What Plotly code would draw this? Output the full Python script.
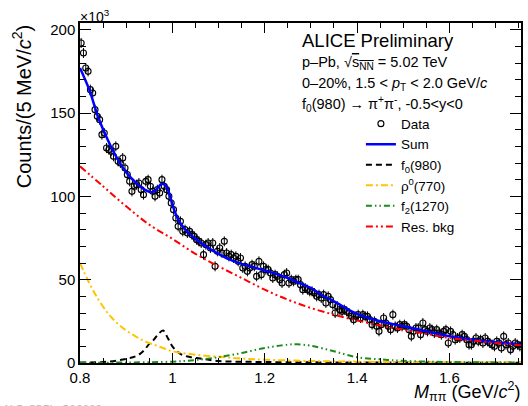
import numpy as np
import plotly.graph_objects as go

# ---------------- data (values in units of 10^3 counts) ----------------
bin_width = 0.005
x_start = 0.8
counts = [192, 186, 177, 175, 164, 162, 152, 148, 146, 137,
          138, 129, 128, 127, 124, 130, 121, 120, 123, 117,
          113, 109, 103, 106, 107, 108, 104, 101, 109, 110,
          106, 103, 100, 104, 102, 110, 106, 104, 100, 96,
          92, 87, 82, 85, 79, 80, 78, 79, 77, 76,
          74, 73, 72, 65, 71, 72, 69, 72, 58, 67,
          69, 66, 73, 66, 64, 65, 63, 64, 61, 63,
          57, 58, 55, 57, 59, 58, 52, 61, 53, 58,
          56, 56, 54, 51, 53, 52, 50, 48, 53, 54,
          48, 50, 49, 50, 50, 47, 44, 45, 44, 43,
          43, 42, 40, 41, 39, 41, 36, 40, 38, 35,
          30, 34, 32, 31, 32, 31, 30, 28, 26, 28,
          29, 27, 29, 28, 28, 26, 23, 25, 22, 19,
          23, 27, 24, 22, 20, 29, 22, 21, 23, 22,
          23, 22, 20, 16, 19, 21, 21, 17, 24, 20,
          19, 21, 20, 18, 20, 18, 17, 19, 20, 12,
          19, 17, 14, 15, 15, 17, 16, 14, 11, 11,
          13, 15, 13, 14, 12, 15, 13, 12, 11, 10,
          13, 12, 9, 16, 11, 12, 8, 10, 12, 11,
          10, 11]
count_err = 3.0
mass = x_start + bin_width * (np.arange(len(counts)) + 0.5)

# fit curves
sum_x = [0.80, 0.82, 0.84, 0.86, 0.88, 0.90, 0.92, 0.94, 0.955, 0.965, 0.977,
         0.987, 0.995, 1.005, 1.015, 1.03, 1.05, 1.075, 1.10, 1.125, 1.15,
         1.175, 1.20, 1.225, 1.25, 1.275, 1.30, 1.325, 1.35, 1.375, 1.40,
         1.425, 1.45, 1.50, 1.55, 1.60, 1.65, 1.70, 1.755]
sum_y = [177, 164, 147, 134, 123, 114.5, 108.5, 104, 102.5, 104, 107.5,
         106, 100, 91, 85, 79.5, 74.5, 69.5, 65.5, 62, 59.5,
         57.5, 55.5, 53.5, 51, 48, 45, 40.5, 37, 33, 29.5,
         27, 25, 22, 19, 16, 14, 12.5, 11]

f0_x = [0.80, 0.86, 0.90, 0.92, 0.93, 0.94, 0.95, 0.96, 0.97, 0.98, 0.99,
        1.00, 1.01, 1.02, 1.04, 1.06, 1.10, 1.20, 1.40, 1.755]
f0_y = [0.3, 0.8, 2.5, 4, 5.5, 8, 11.5, 14, 17.5, 19.5, 15,
        10, 7, 5, 3.5, 2.7, 1.2, 0.6, 0.3, 0.2]

rho_x = [0.80, 0.82, 0.84, 0.86, 0.88, 0.90, 0.92, 0.94, 0.96, 0.98, 1.00,
         1.05, 1.10, 1.15, 1.20, 1.30, 1.40, 1.50, 1.755]
rho_y = [60, 48, 38, 30, 24, 19.5, 16, 13, 11, 9, 7,
         5, 3.7, 2.7, 2, 1.2, 0.8, 0.5, 0.3]

f2_x = [0.80, 0.90, 1.00, 1.05, 1.10, 1.15, 1.20, 1.25, 1.27, 1.30, 1.35,
        1.40, 1.45, 1.50, 1.60, 1.755]
f2_y = [0.1, 0.3, 0.8, 1.8, 3.5, 6, 9, 11, 11.2, 10.3, 7,
        3.5, 2.2, 1.3, 0.6, 0.3]

bkg_x = [0.80, 0.85, 0.90, 0.95, 1.00, 1.05, 1.10, 1.15, 1.20, 1.25, 1.30,
         1.35, 1.40, 1.45, 1.50, 1.55, 1.60, 1.65, 1.70, 1.755]
bkg_y = [118, 106, 94, 83, 74.5, 65.5, 58, 51, 44, 38, 33,
         29, 25.5, 22.5, 20, 17.5, 15, 13.5, 12, 10.5]

x_range = [0.8, 1.755]
y_range = [0, 204]

# ---------------- figure ----------------
fig = go.Figure()

fig.add_trace(go.Scatter(
    x=mass, y=counts, mode="markers", name="Data",
    marker=dict(symbol="circle-open", size=6, color="black", line=dict(width=1.1, color="black")),
    error_y=dict(type="constant", value=count_err, width=0, thickness=1, color="black"),
))
fig.add_trace(go.Scatter(x=sum_x, y=sum_y, mode="lines", name="Sum", line_shape="spline",
                         line=dict(color="#0000ff", width=2.5)))
fig.add_trace(go.Scatter(x=f0_x, y=f0_y, mode="lines", name="f<sub>0</sub>(980)", line_shape="spline",
                         line=dict(color="black", width=2, dash="6px,4px")))
fig.add_trace(go.Scatter(x=rho_x, y=rho_y, mode="lines", name="ρ<sup>0</sup>(770)", line_shape="spline",
                         line=dict(color="#ffc400", width=2, dash="7px,3px,2px,3px")))
fig.add_trace(go.Scatter(x=f2_x, y=f2_y, mode="lines", name="f<sub>2</sub>(1270)", line_shape="spline",
                         line=dict(color="#1d8a1d", width=2, dash="6px,3px,1.5px,3px,1.5px,3px")))
fig.add_trace(go.Scatter(x=bkg_x, y=bkg_y, mode="lines", name="Res. bkg", line_shape="spline",
                         line=dict(color="#ff0000", width=2, dash="7px,3px,2px,3px,2px,3px")))

font_family = "Liberation Sans, Arial, Helvetica, sans-serif"

axis_common = dict(
    showgrid=False, zeroline=False, showline=True, linecolor="black", linewidth=1.5,
    ticks="inside", tickcolor="black", tickwidth=1.2, mirror="allticks",
    tickfont=dict(family=font_family, size=15, color="black"),
)
fig.update_xaxes(range=x_range, ticklen=10,
                 tickvals=[0.8, 1.0, 1.2, 1.4, 1.6], ticktext=["0.8", "1", "1.2", "1.4", "1.6"],
                 minor=dict(ticks="inside", ticklen=5, dtick=0.05, tick0=0.8, tickcolor="black", tickwidth=1.1),
                 **axis_common)
fig.update_yaxes(range=y_range, tickmode="linear", tick0=0, dtick=50, ticklen=11,
                 minor=dict(ticks="inside", ticklen=6, dtick=10, tick0=0, tickcolor="black", tickwidth=1.1),
                 **axis_common)

L, R, T, B = 79.5, 5, 22.5, 43
W, H = 528, 406
pw, ph = W - L - R, H - T - B


def px(xp):
    return (xp - L) / pw


def py(yp):
    return (H - B - yp) / ph


annotations = [
    dict(text="ALICE Preliminary", x=px(301), y=py(40.5), size=18.5),
    dict(text="p–Pb, √<span style='text-decoration:overline'>s<sub>NN</sub></span> = 5.02 TeV", x=px(301), y=py(62.5), size=14.5),
    dict(text="0–20%, 1.5 < <i>p</i><sub>T</sub> < 2.0 GeV/<i>c</i>", x=px(301), y=py(84), size=14.5),
    dict(text="f<sub>0</sub>(980) → π<sup>+</sup>π<sup>-</sup>, -0.5<y<0", x=px(301), y=py(104), size=14.5),
]
for a in annotations:
    fig.add_annotation(text=a["text"], x=a["x"], y=a["y"], xref="paper", yref="paper",
                       xanchor="left", yanchor="middle", showarrow=False,
                       font=dict(family=font_family, size=a["size"], color="black"))

# axis titles
fig.add_annotation(text="Counts/(5 MeV/<i>c</i><sup>2</sup>)", x=px(21), y=py(106), xref="paper", yref="paper",
                   textangle=-90, showarrow=False, xanchor="center", yanchor="middle",
                   font=dict(family=font_family, size=20, color="black"))
fig.add_annotation(text="<i>M</i><sub>ππ</sub> (GeV/<i>c</i><sup>2</sup>)", x=px(524), y=py(392), xref="paper", yref="paper",
                   showarrow=False, xanchor="right", yanchor="middle",
                   font=dict(family=font_family, size=18, color="black"))
fig.add_annotation(text="×10<sup>3</sup>", x=px(77), y=py(15), xref="paper", yref="paper",
                   showarrow=False, xanchor="left", yanchor="middle",
                   font=dict(family=font_family, size=14, color="black"))
fig.add_annotation(text="ALI-PREL-506002", x=px(0), y=py(401), xref="paper", yref="paper",
                   showarrow=False, xanchor="left", yanchor="top",
                   font=dict(family="DejaVu Sans Mono, monospace", size=11, color="#bdbdbd"))

fig.update_layout(
    width=W, height=H,
    margin=dict(l=L, r=R, t=T, b=B, pad=0),
    paper_bgcolor="white", plot_bgcolor="white",
    showlegend=True,
    legend=dict(x=px(362), y=py(108), xanchor="left", yanchor="top",
                bgcolor="rgba(0,0,0,0)", borderwidth=0, itemwidth=30,
                font=dict(family=font_family, size=13.5, color="black"),
                tracegroupgap=0),
    font=dict(family=font_family, color="black"),
)

fig.write_html("out.html")
